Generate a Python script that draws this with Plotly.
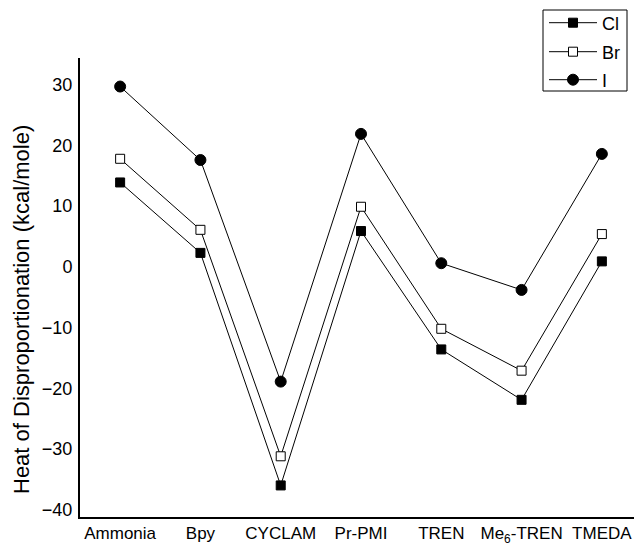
import plotly.graph_objects as go

categories = ["Ammonia", "Bpy", "CYCLAM", "Pr-PMI", "TREN", "Me<sub>6</sub>-TREN", "TMEDA"]
cl_values = [13.9, 2.3, -36.0, 5.9, -13.6, -21.9, 0.9]
br_values = [17.8, 6.1, -31.2, 9.9, -10.2, -17.1, 5.4]
i_values = [29.7, 17.6, -18.9, 21.9, 0.6, -3.8, 18.6]
y_ticks = [-40, -30, -20, -10, 0, 10, 20, 30]
y_title = "Heat of Disproportionation (kcal/mole)"

FONT = "Arial, Liberation Sans, Helvetica, sans-serif"
xidx = list(range(len(categories)))

# page body has an 8px margin in the browser: size the figure to the visible area
W, H = 634, 536
ML, MT, MB, MR = 72, 50, 27, 0
PW, PH = W - ML - MR, H - MT - MB

def px_x(x):
    return (x - ML) / PW

def px_y(y):
    return 1 - (y - MT) / PH

fig = go.Figure()
fig.add_trace(go.Scatter(
    x=xidx, y=cl_values, name="Cl", mode="lines+markers", legend="legend",
    line=dict(color="black", width=1),
    marker=dict(symbol="square", size=9, color="black", line=dict(color="black", width=1)),
))
fig.add_trace(go.Scatter(
    x=xidx, y=br_values, name="Br", mode="lines+markers", legend="legend2",
    line=dict(color="black", width=1),
    marker=dict(symbol="square", size=9, color="white", line=dict(color="black", width=1)),
))
fig.add_trace(go.Scatter(
    x=xidx, y=i_values, name="I", mode="lines+markers", legend="legend3",
    line=dict(color="black", width=1),
    marker=dict(symbol="circle", size=11, color="black", line=dict(color="black", width=1)),
))

# legend frame
fig.add_shape(type="rect", xref="paper", yref="paper",
              x0=px_x(535), x1=px_x(619), y0=px_y(83), y1=px_y(2),
              line=dict(color="black", width=1), fillcolor="rgba(0,0,0,0)", layer="above")

# y-axis title
fig.add_annotation(text=y_title, textangle=-90, xref="paper", yref="paper",
                   x=px_x(13), y=px_y(302), xanchor="center", yanchor="middle",
                   showarrow=False, font=dict(size=22))

def legend_at(ypix):
    return dict(
        x=px_x(536), y=px_y(ypix), xanchor="left", yanchor="middle",
        borderwidth=0, bgcolor="rgba(0,0,0,0)",
        font=dict(size=18), itemwidth=48,
    )

fig.update_layout(
    width=W, height=H,
    margin=dict(l=ML, r=MR, t=MT, b=MB, autoexpand=False),
    paper_bgcolor="white", plot_bgcolor="white",
    font=dict(family=FONT, size=18, color="black"),
    showlegend=True,
    legend=legend_at(15),
    legend2=legend_at(44),
    legend3=legend_at(72),
    xaxis=dict(
        range=[-0.5, 6.5], tickmode="array", tickvals=xidx, ticktext=categories,
        showline=True, linecolor="black", linewidth=2, showgrid=False, zeroline=False,
        ticks="", ticklabelstandoff=0, tickfont=dict(size=17), automargin=False,
    ),
    yaxis=dict(
        range=[-41.2, 34.4], tickmode="array", tickvals=y_ticks,
        showline=True, linecolor="black", linewidth=2, showgrid=False, zeroline=False,
        ticks="", ticklabelstandoff=2, tickfont=dict(size=18), automargin=False,
    ),
)

fig.write_html("out.html")
